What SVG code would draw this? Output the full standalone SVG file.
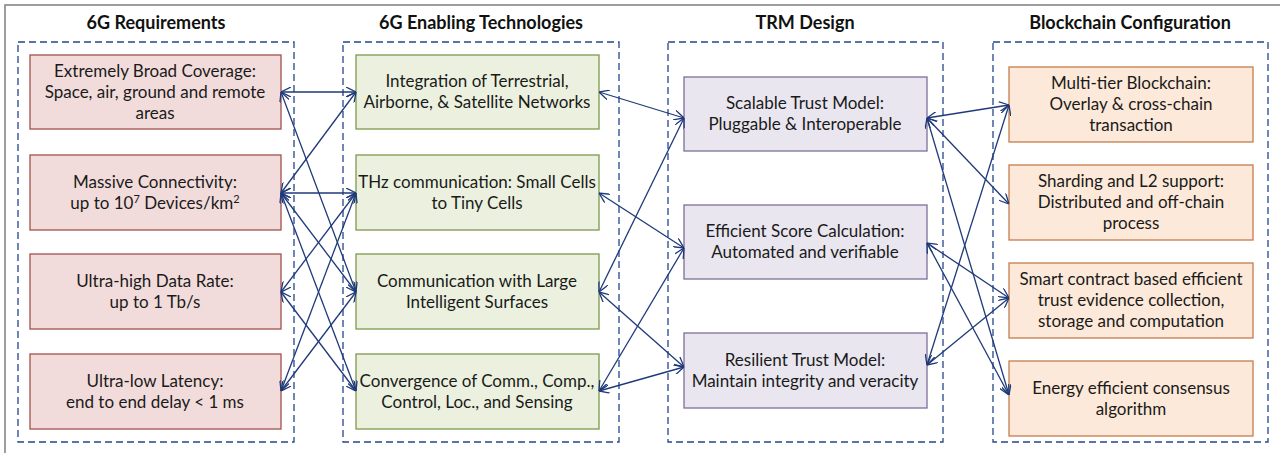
<svg xmlns="http://www.w3.org/2000/svg" width="1280" height="453" viewBox="0 0 1280 453">
<defs>
<marker id="ah" viewBox="0 0 10 10" refX="10" refY="5" markerWidth="10" markerHeight="10" markerUnits="userSpaceOnUse" orient="auto-start-reverse">
<path d="M0,0 L10,5 L0,10" fill="none" stroke="#1F3A7A" stroke-width="1.3"/>
</marker>
<style>
.title{font-family:Lato,"Open Sans",sans-serif;font-weight:bold;font-size:18px;fill:#111;text-anchor:middle}
.t{font-family:Lato,"Open Sans",sans-serif;font-size:17px;fill:#1a1a1a;text-anchor:middle}
.grp{fill:none;stroke:#24478F;stroke-width:1.3;stroke-dasharray:7 4}
.req{fill:#F2DCDB;stroke:#A0514E;stroke-width:1.3}
.tech{fill:#EBF1DE;stroke:#7B9A4C;stroke-width:1.3}
.trm{fill:#E9E6EF;stroke:#7F6F98;stroke-width:1.3}
.bc{fill:#FDE9D9;stroke:#C47D4C;stroke-width:1.3}
#connectors line{stroke:#1F3A7A;stroke-width:1.3;fill:none;marker-start:url(#ah);marker-end:url(#ah)}
</style>
</defs>
<rect x="5" y="5" width="1290" height="460" fill="#fff" stroke="#7f7f7f" stroke-width="1.5"/>

<g id="titles">
<text class="title" x="156" y="29">6G Requirements</text>
<text class="title" x="481" y="29">6G Enabling Technologies</text>
<text class="title" x="805" y="29">TRM Design</text>
<text class="title" x="1130" y="29">Blockchain Configuration</text>
</g>

<g id="groups">
<rect class="grp" x="18" y="42" width="276" height="400"/>
<rect class="grp" x="343" y="42" width="276" height="400"/>
<rect class="grp" x="668" y="42" width="275" height="400"/>
<rect class="grp" x="993" y="42" width="275" height="400"/>
</g>

<g id="req1"><rect class="req" x="30" y="55" width="251" height="74"/>
<text class="t" x="155" y="77">Extremely Broad Coverage:</text>
<text class="t" x="155" y="98">Space, air, ground and remote</text>
<text class="t" x="155" y="119">areas</text></g>
<g id="req2"><rect class="req" x="30" y="155" width="251" height="75"/>
<text class="t" x="155" y="188">Massive Connectivity:</text>
<text class="t" x="155" y="209">up to 10<tspan font-size="11" dy="-6">7</tspan><tspan dy="6"> Devices/km</tspan><tspan font-size="11" dy="-6">2</tspan></text></g>
<g id="req3"><rect class="req" x="30" y="254" width="251" height="75"/>
<text class="t" x="155" y="287">Ultra-high Data Rate:</text>
<text class="t" x="155" y="308">up to 1 Tb/s</text></g>
<g id="req4"><rect class="req" x="30" y="354" width="251" height="75"/>
<text class="t" x="155" y="387">Ultra-low Latency:</text>
<text class="t" x="155" y="408">end to end delay &lt; 1 ms</text></g>

<g id="tech1"><rect class="tech" x="356" y="55" width="243" height="74"/>
<text class="t" x="477" y="87">Integration of Terrestrial,</text>
<text class="t" x="477" y="108">Airborne, &amp; Satellite Networks</text></g>
<g id="tech2"><rect class="tech" x="356" y="155" width="243" height="75"/>
<text class="t" x="477" y="188">THz communication: Small Cells</text>
<text class="t" x="477" y="209">to Tiny Cells</text></g>
<g id="tech3"><rect class="tech" x="356" y="254" width="243" height="75"/>
<text class="t" x="477" y="287">Communication with Large</text>
<text class="t" x="477" y="308">Intelligent Surfaces</text></g>
<g id="tech4"><rect class="tech" x="356" y="354" width="243" height="75"/>
<text class="t" x="477" y="387">Convergence of Comm., Comp.,</text>
<text class="t" x="477" y="408">Control, Loc., and Sensing</text></g>

<g id="trm1"><rect class="trm" x="684" y="77" width="243" height="74"/>
<text class="t" x="805" y="109">Scalable Trust Model:</text>
<text class="t" x="805" y="130">Pluggable &amp; Interoperable</text></g>
<g id="trm2"><rect class="trm" x="684" y="205" width="243" height="74"/>
<text class="t" x="805" y="237">Efficient Score Calculation:</text>
<text class="t" x="805" y="258">Automated and verifiable</text></g>
<g id="trm3"><rect class="trm" x="684" y="333" width="243" height="75"/>
<text class="t" x="805" y="366">Resilient Trust Model:</text>
<text class="t" x="805" y="387">Maintain integrity and veracity</text></g>

<g id="bc1"><rect class="bc" x="1009" y="67" width="244" height="75"/>
<text class="t" x="1131" y="89">Multi-tier Blockchain:</text>
<text class="t" x="1131" y="110">Overlay &amp; cross-chain</text>
<text class="t" x="1131" y="131">transaction</text></g>
<g id="bc2"><rect class="bc" x="1009" y="165" width="244" height="75"/>
<text class="t" x="1131" y="187">Sharding and L2 support:</text>
<text class="t" x="1131" y="208">Distributed and off-chain</text>
<text class="t" x="1131" y="229">process</text></g>
<g id="bc3"><rect class="bc" x="1009" y="263" width="244" height="75"/>
<text class="t" x="1131" y="285">Smart contract based efficient</text>
<text class="t" x="1131" y="306">trust evidence collection,</text>
<text class="t" x="1131" y="327">storage and computation</text></g>
<g id="bc4"><rect class="bc" x="1009" y="361" width="244" height="75"/>
<text class="t" x="1131" y="394">Energy efficient consensus</text>
<text class="t" x="1131" y="415">algorithm</text></g>

<g id="connectors">
<line x1="281" y1="92" x2="356" y2="92"/>
<line x1="281" y1="92" x2="356" y2="292"/>
<line x1="281" y1="193" x2="356" y2="92"/>
<line x1="281" y1="193" x2="356" y2="193"/>
<line x1="281" y1="193" x2="356" y2="292"/>
<line x1="281" y1="193" x2="356" y2="391"/>
<line x1="281" y1="292" x2="356" y2="193"/>
<line x1="281" y1="292" x2="356" y2="391"/>
<line x1="281" y1="391" x2="356" y2="193"/>
<line x1="281" y1="391" x2="356" y2="292"/>

<line x1="599" y1="92" x2="684" y2="118"/>
<line x1="599" y1="193" x2="684" y2="248"/>
<line x1="599" y1="292" x2="684" y2="118"/>
<line x1="599" y1="292" x2="684" y2="367"/>
<line x1="599" y1="391" x2="684" y2="248"/>
<line x1="599" y1="391" x2="684" y2="367"/>

<line x1="927" y1="118" x2="1009" y2="105"/>
<line x1="927" y1="118" x2="1009" y2="204"/>
<line x1="927" y1="118" x2="1009" y2="395"/>
<line x1="927" y1="243" x2="1009" y2="298"/>
<line x1="927" y1="243" x2="1009" y2="395"/>
<line x1="927" y1="365" x2="1009" y2="105"/>
<line x1="927" y1="365" x2="1009" y2="298"/>
</g>
</svg>
